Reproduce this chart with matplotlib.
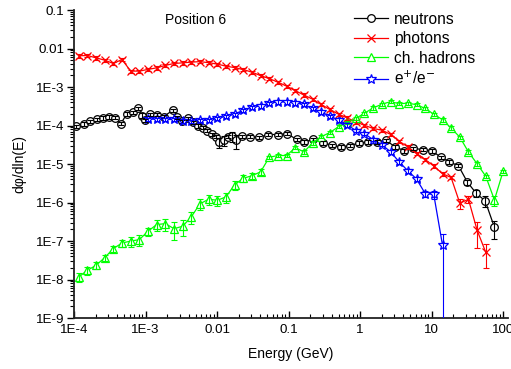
import matplotlib
matplotlib.use("Agg")
import matplotlib.pyplot as plt
from matplotlib.ticker import LogLocator, NullFormatter

plt.rcParams['font.family'] = ['Liberation Sans', 'DejaVu Sans']

# energy bin centres (GeV) used by photons, hadrons and e+/e-
energy = [1.16e-4, 1.54e-4, 2.03e-4, 2.69e-4, 3.55e-4, 4.69e-4, 6.2e-4, 8.2e-4,
          1.08e-3, 1.43e-3, 1.89e-3, 2.50e-3, 3.30e-3, 4.37e-3, 5.77e-3, 7.63e-3,
          1.01e-2, 1.33e-2, 1.76e-2, 2.33e-2, 3.08e-2, 4.07e-2, 5.37e-2, 7.10e-2,
          9.38e-2, 0.124, 0.164, 0.217, 0.286, 0.378, 0.500, 0.661,
          0.873, 1.15, 1.52, 2.02, 2.67, 3.52, 4.65, 6.15,
          8.13, 10.7, 14.2, 18.7, 24.8, 32.7, 43.3, 57.1,
          75.5, 99.8]

photons = [6.5e-3, 6.6e-3, 5.75e-3, 5.0e-3, 4.1e-3, 5.2e-3, 2.6e-3, 2.6e-3,
           2.87e-3, 3.16e-3, 3.65e-3, 4.1e-3, 4.26e-3, 4.45e-3, 4.58e-3, 4.3e-3,
           3.95e-3, 3.5e-3, 3.2e-3, 2.84e-3, 2.44e-3, 1.98e-3, 1.66e-3, 1.34e-3,
           1.06e-3, 8.1e-4, 6.2e-4, 4.85e-4, 3.53e-4, 2.62e-4, 1.98e-4, 1.58e-4,
           1.25e-4, 1.02e-4, 8.4e-5, 7.6e-5, 5.9e-5, 3.9e-5, 2.8e-5, 1.88e-5,
           1.31e-5, 8.9e-6, 5.6e-6, 4.5e-6, 9.6e-7, 1.22e-6, 1.9e-7, 5.1e-8]
photons_err = [0.1] * 44 + [0.3, 0.2, 0.65, 0.6]

hadrons = [1.16e-8, 1.74e-8, 2.34e-8, 3.72e-8, 6.37e-8, 8.9e-8, 1.0e-7, 1.09e-7,
           1.79e-7, 2.68e-7, 2.84e-7, 2.1e-7, 2.42e-7, 4.28e-7, 9.3e-7, 1.22e-6,
           1.15e-6, 1.4e-6, 2.9e-6, 4.28e-6, 4.98e-6, 6.3e-6, 1.5e-5, 1.67e-5,
           1.67e-5, 2.66e-5, 2.07e-5, 3.55e-5, 5.14e-5, 6.6e-5, 9.35e-5, 1.22e-4,
           1.53e-4, 2.1e-4, 2.86e-4, 3.6e-4, 4.18e-4, 3.7e-4, 3.82e-4, 3.49e-4,
           2.78e-4, 1.98e-4, 1.41e-4, 8.65e-5, 4.99e-5, 2.07e-5, 1.01e-5, 4.83e-6,
           1.17e-6, 6.5e-6]
hadrons_err = [0.25, 0.25, 0.2, 0.2, 0.2, 0.2, 0.3, 0.3, 0.25, 0.3, 0.35, 0.5,
               0.45, 0.35, 0.3, 0.3, 0.3, 0.3, 0.25, 0.2, 0.2, 0.15] + [0.1] * 26 + [0.3, 0.1]

# e+/e- start at the 9th bin
electrons = [1.47e-4, 1.47e-4, 1.44e-4, 1.44e-4, 1.32e-4, 1.3e-4, 1.38e-4, 1.38e-4,
             1.53e-4, 1.75e-4, 1.98e-4, 2.51e-4, 3.0e-4, 3.23e-4, 3.75e-4, 4.13e-4,
             4.13e-4, 3.86e-4, 3.53e-4, 2.78e-4, 2.27e-4, 1.75e-4, 1.41e-4, 1.05e-4,
             7.4e-5, 6.2e-5, 4.3e-5, 3.18e-5, 2.07e-5, 1.14e-5, 6.7e-6, 4.1e-6,
             1.71e-6, 1.64e-6, 7.8e-8]
electrons_err = [0.1] * 32 + [0.2, 0.25, 1.0]

neutron_energy = [1.05e-4, 1.38e-4, 1.70e-4, 2.07e-4, 2.51e-4, 3.04e-4, 3.71e-4, 4.54e-4,
                  5.46e-4, 6.74e-4, 7.92e-4, 8.79e-4, 9.93e-4, 1.16e-3, 1.44e-3, 1.79e-3,
                  2.39e-3, 2.76e-3, 3.21e-3, 3.97e-3, 4.67e-3, 5.47e-3, 6.37e-3, 7.24e-3,
                  8.38e-3, 9.53e-3, 1.08e-2, 1.25e-2, 1.40e-2, 1.62e-2, 1.85e-2, 2.21e-2,
                  2.90e-2, 3.86e-2, 5.21e-2, 7.01e-2, 9.53e-2, 0.130, 0.166, 0.222,
                  0.301, 0.402, 0.537, 0.724, 0.968, 1.31, 1.71, 2.29,
                  3.09, 4.17, 5.56, 7.48, 10.1, 13.4, 17.7, 23.7,
                  31.7, 41.9, 56.0, 75.5]
neutrons = [9.6e-5, 1.11e-4, 1.30e-4, 1.47e-4, 1.57e-4, 1.68e-4, 1.60e-4, 1.13e-4,
            2.01e-4, 2.19e-4, 2.78e-4, 1.81e-4, 1.36e-4, 1.98e-4, 1.92e-4, 1.72e-4,
            2.47e-4, 1.65e-4, 1.30e-4, 1.53e-4, 1.22e-4, 9.9e-5, 8.8e-5, 7.4e-5,
            5.97e-5, 5.14e-5, 3.7e-5, 4.17e-5, 5.14e-5, 5.3e-5, 4.17e-5, 5.3e-5,
            5.14e-5, 4.99e-5, 5.86e-5, 5.86e-5, 6.15e-5, 4.35e-5, 3.77e-5, 4.35e-5,
            3.55e-5, 3.09e-5, 2.79e-5, 3.03e-5, 3.55e-5, 3.77e-5, 3.77e-5, 4.17e-5,
            2.79e-5, 2.22e-5, 2.54e-5, 2.39e-5, 2.22e-5, 1.51e-5, 1.14e-5, 9.06e-6,
            3.37e-6, 1.75e-6, 1.11e-6, 2.28e-7]
neutrons_err = ([0.1] * 11 + [0.15] + [0.1] * 14 + [0.3, 0.3, 0.1, 0.3, 0.4]
                + [0.1] * 25 + [0.15, 0.2, 0.3, 0.5])

x_ticks = [1e-4, 1e-3, 1e-2, 1e-1, 1, 10, 100]
x_labels = ["1E-4", "1E-3", "0.01", "0.1", "1", "10", "100"]
y_ticks = [1e-9, 1e-8, 1e-7, 1e-6, 1e-5, 1e-4, 1e-3, 1e-2, 1e-1]
y_labels = ["1E-9", "1E-8", "1E-7", "1E-6", "1E-5", "1E-4", "1E-3", "0.01", "0.1"]


def draw(ax, x, y, rel, color, marker, ms, label):
    err = [v * r for v, r in zip(y, rel)]
    ax.plot(x, y, color=color, marker=marker, ms=ms, mfc='white', mec=color,
            mew=0.9, lw=0.9, label=label, zorder=2)
    ax.errorbar(x, y, yerr=err, fmt='none', ecolor=color, elinewidth=0.8,
                capsize=2.5, capthick=0.8, zorder=3)


fig = plt.figure(figsize=(5.11, 3.69), dpi=100)
ax = fig.add_axes([0.1448, 0.138, 0.8494, 0.8347])

draw(ax, neutron_energy, neutrons, neutrons_err, 'black', 'o', 5.5, 'neutrons')
draw(ax, energy[:len(photons)], photons, photons_err, 'red', 'x', 5.5, 'photons')
draw(ax, energy, hadrons, hadrons_err, '#00ff00', '^', 6, 'ch. hadrons')
draw(ax, energy[8:8 + len(electrons)], electrons, electrons_err, 'blue', '*', 7,
     'e$^{+}$/e$^{-}$')

ax.set_xscale('log')
ax.set_yscale('log')
ax.set_xlim(1e-4, 117)
ax.set_ylim(1e-9, 0.1)

ax.set_xticks(x_ticks)
ax.set_xticklabels(x_labels)
ax.set_yticks(y_ticks)
ax.set_yticklabels(y_labels)
ax.xaxis.set_minor_locator(LogLocator(base=10, subs=range(2, 10), numticks=20))
ax.yaxis.set_minor_locator(LogLocator(base=10, subs=range(2, 10), numticks=20))
ax.xaxis.set_minor_formatter(NullFormatter())
ax.yaxis.set_minor_formatter(NullFormatter())
ax.tick_params(axis='x', which='both', direction='in', labelsize=9.6, pad=4)
ax.tick_params(axis='y', which='both', direction='out', labelsize=9.6, pad=2)
ax.tick_params(which='major', length=5, width=1.0)
ax.tick_params(which='minor', length=3, width=0.8)

for s in ['top', 'right']:
    ax.spines[s].set_visible(False)
for s in ['left', 'bottom']:
    ax.spines[s].set_linewidth(1.3)
    ax.spines[s].set_color('#222222')

ax.set_xlabel("Energy (GeV)", fontsize=10, labelpad=8)
ax.set_ylabel("dφ/dln(E)", fontsize=10, labelpad=7)
ax.text(0.28, 0.967, "Position 6", transform=ax.transAxes, fontsize=10,
        ha='center', va='center')

ax.legend(loc='upper left', bbox_to_anchor=(0.645, 0.994), frameon=False,
          fontsize=11.2, handlelength=2.2, handletextpad=0.35, labelspacing=0.28,
          borderpad=0, borderaxespad=0)

fig.savefig("out.png", dpi=100)
